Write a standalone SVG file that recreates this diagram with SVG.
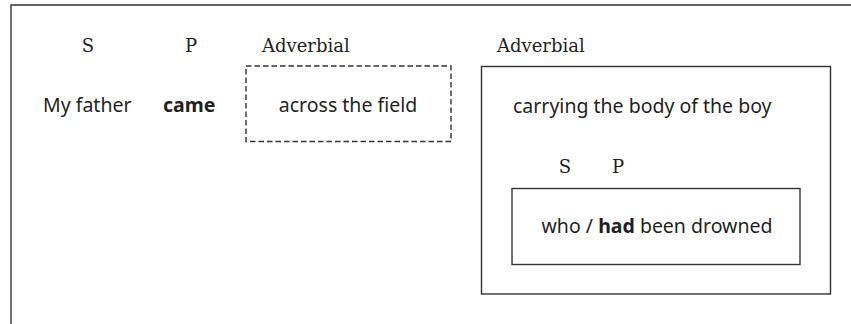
<svg xmlns="http://www.w3.org/2000/svg" width="851" height="324" viewBox="0 0 851 324">
<style>
.lbl{font-family:"DejaVu Serif","Liberation Serif",serif;font-size:18px;fill:#231f20}
.txt{font-family:"Noto Sans","Liberation Sans",sans-serif;font-size:19.5px;fill:#231f20}
.b{font-weight:bold}
.box{fill:none;stroke:#333;stroke-width:1.4}
.dash{fill:none;stroke:#333;stroke-width:1.4;stroke-dasharray:5.5 3}
</style>
<rect width="851" height="324" fill="#fff"/>
<g id="frame"><path class="box" d="M11 324 V5 H851"/></g>
<g id="labels">
<text class="lbl" x="88" y="52" text-anchor="middle">S</text>
<text class="lbl" x="191" y="52" text-anchor="middle">P</text>
<text class="lbl" x="262" y="52">Adverbial</text>
<text class="lbl" x="497" y="52">Adverbial</text>
<text class="lbl" x="565" y="173" text-anchor="middle">S</text>
<text class="lbl" x="618" y="173" text-anchor="middle">P</text>
</g>
<g id="subject"><text class="txt" x="43" y="112">My father</text></g>
<g id="predicate"><text class="txt b" x="163" y="112">came</text></g>
<g id="adverbial1">
<rect class="dash" x="246" y="66" width="205" height="75.5"/>
<text class="txt" x="348" y="112" text-anchor="middle">across the field</text>
</g>
<g id="adverbial2">
<rect class="box" x="481.5" y="66.5" width="349" height="227.5"/>
<text class="txt" x="513" y="113">carrying the body of the boy</text>
<g id="relclause">
<rect class="box" x="512" y="188.5" width="288" height="76"/>
<text class="txt" x="657" y="233" text-anchor="middle">who / <tspan class="b">had</tspan> been drowned</text>
</g>
</g>
<g id="connectors"/>
</svg>
